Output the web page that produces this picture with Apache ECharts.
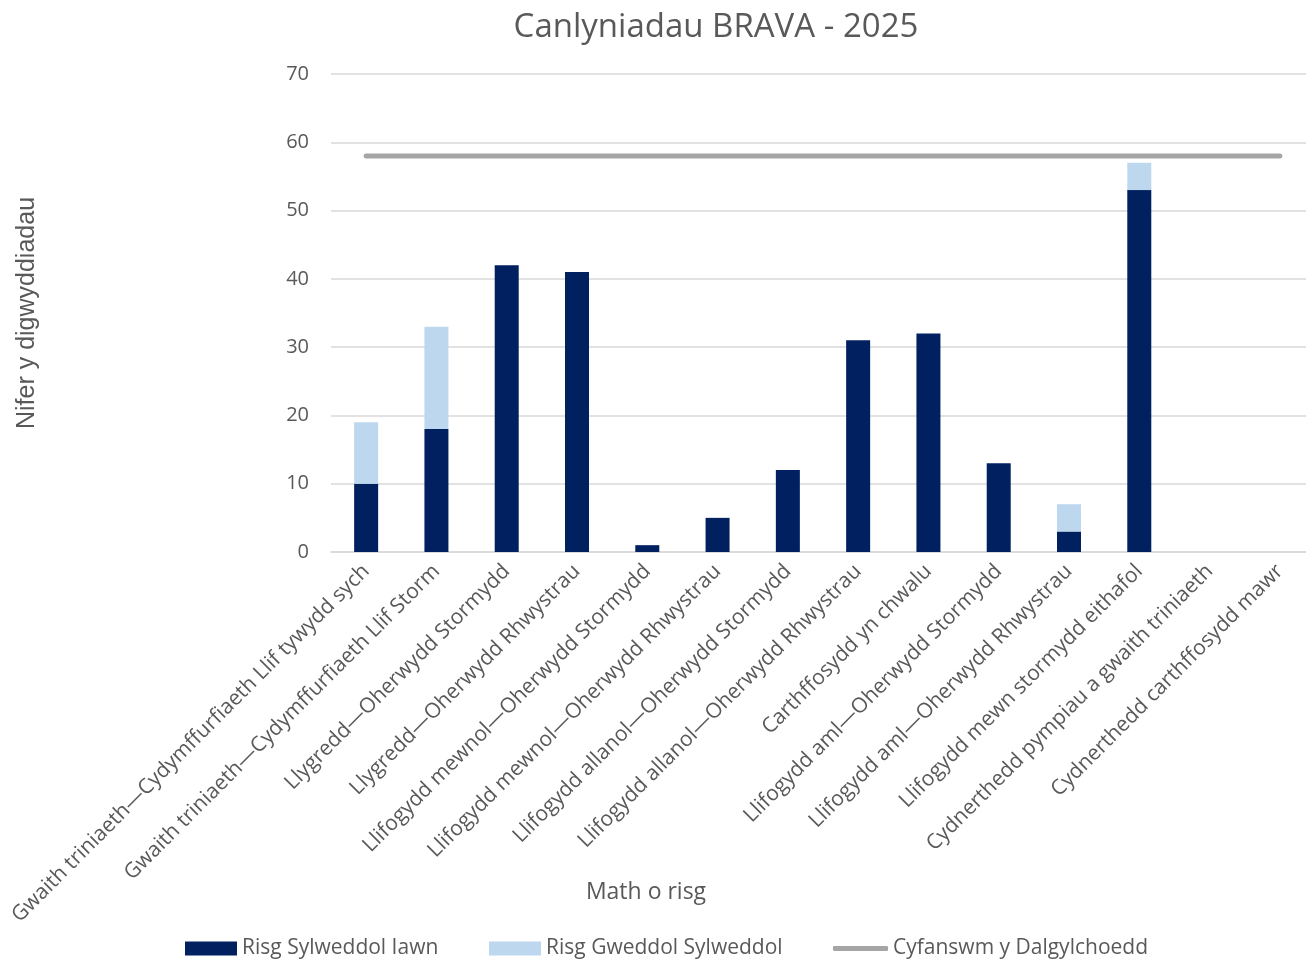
<!DOCTYPE html>
<html><head><meta charset="utf-8">
<script src="https://cdn.jsdelivr.net/npm/echarts@6/dist/echarts.min.js"></script>
<style>html,body{margin:0;padding:0;background:#fff}#c{width:1306px;height:959px}</style>
</head><body><div id="c"></div>
<script>
const categories = [
  "Gwaith triniaeth—Cydymffurfiaeth Llif tywydd sych",
  "Gwaith triniaeth—Cydymffurfiaeth Llif Storm",
  "Llygredd—Oherwydd Stormydd",
  "Llygredd—Oherwydd Rhwystrau",
  "Llifogydd mewnol—Oherwydd Stormydd",
  "Llifogydd mewnol—Oherwydd Rhwystrau",
  "Llifogydd allanol—Oherwydd Stormydd",
  "Llifogydd allanol—Oherwydd Rhwystrau",
  "Carthffosydd yn chwalu",
  "Llifogydd aml—Oherwydd Stormydd",
  "Llifogydd aml—Oherwydd Rhwystrau",
  "Llifogydd mewn stormydd eithafol",
  "Cydnerthedd pympiau a gwaith triniaeth",
  "Cydnerthedd carthffosydd mawr"
];
const veryHigh = [10, 18, 42, 41, 1, 5, 12, 31, 32, 13, 3, 53, 0, 0];
const moderate = [9, 15, 0, 0, 0, 0, 0, 0, 0, 0, 4, 4, 0, 0];
const catchmentTotal = [58, 58, 58, 58, 58, 58, 58, 58, 58, 58, 58, 58, 58, 58];
const seriesNames = ["Risg Sylweddol Iawn", "Risg Gweddol Sylweddol", "Cyfanswm y Dalgylchoedd"];

const FONT = "Open Sans";
const legendText = {fontFamily: FONT, fontSize: 21, color: '#595959'};
const chart = echarts.init(document.getElementById('c'), null, {renderer: 'canvas'});
chart.setOption({
  animation: false,
  textStyle: {fontFamily: FONT, color: '#595959'},
  title: [
    {text: "Canlyniadau BRAVA - 2025", left: 716, top: 11, padding: 0, textAlign: 'center',
     textStyle: {fontFamily: FONT, fontSize: 33, fontWeight: 'normal', color: '#595959'}},
    {text: "Math o risg", left: 646, top: 881, padding: 0, textAlign: 'center',
     textStyle: {fontFamily: FONT, fontSize: 23, fontWeight: 'normal', color: '#595959'}}
  ],
  legend: [
    {top: 938, left: 185, padding: 0, itemWidth: 52, itemHeight: 14, textStyle: legendText,
     data: [{name: seriesNames[0], icon: 'rect'}]},
    {top: 938, left: 489, padding: 0, itemWidth: 52, itemHeight: 14, textStyle: legendText,
     data: [{name: seriesNames[1], icon: 'rect'}]},
    {top: 938, left: 833, padding: 0, itemWidth: 55, itemHeight: 5, textStyle: legendText,
     data: [{name: seriesNames[2], icon: 'roundRect'}]}
  ],
  grid: {left: 331, top: 74, width: 984, bottom: 407, containLabel: false, outerBoundsMode: 'none'},
  xAxis: {
    type: 'category', data: categories,
    axisLine: {show: true, lineStyle: {color: '#D9D9D9', width: 1.5}},
    axisTick: {show: false},
    axisLabel: {interval: 0, rotate: 45, fontFamily: FONT, fontSize: 21, color: '#595959', margin: 16}
  },
  yAxis: {
    type: 'value', min: 0, max: 70, interval: 10,
    name: "Nifer y digwyddiadau", nameLocation: 'middle', nameGap: 291, nameRotate: 90,
    nameTextStyle: {fontFamily: 'Liberation Sans', fontSize: 25, color: '#595959'},
    axisLine: {show: false}, axisTick: {show: false},
    axisLabel: {fontFamily: FONT, fontSize: 20, color: '#595959', margin: 22},
    splitLine: {lineStyle: {color: '#D9D9D9', width: 1.5}}
  },
  series: [
    {name: seriesNames[0], type: 'bar', stack: 'a', data: veryHigh, barWidth: 24,
     itemStyle: {color: '#002060'}},
    {name: seriesNames[1], type: 'bar', stack: 'a', data: moderate, barWidth: 24,
     itemStyle: {color: '#BDD7EE'}},
    {name: seriesNames[2], type: 'line', data: catchmentTotal, symbol: 'none',
     lineStyle: {color: '#A5A5A5', width: 5, cap: 'round'}, itemStyle: {color: '#A5A5A5'}}
  ]
});
</script></body></html>
